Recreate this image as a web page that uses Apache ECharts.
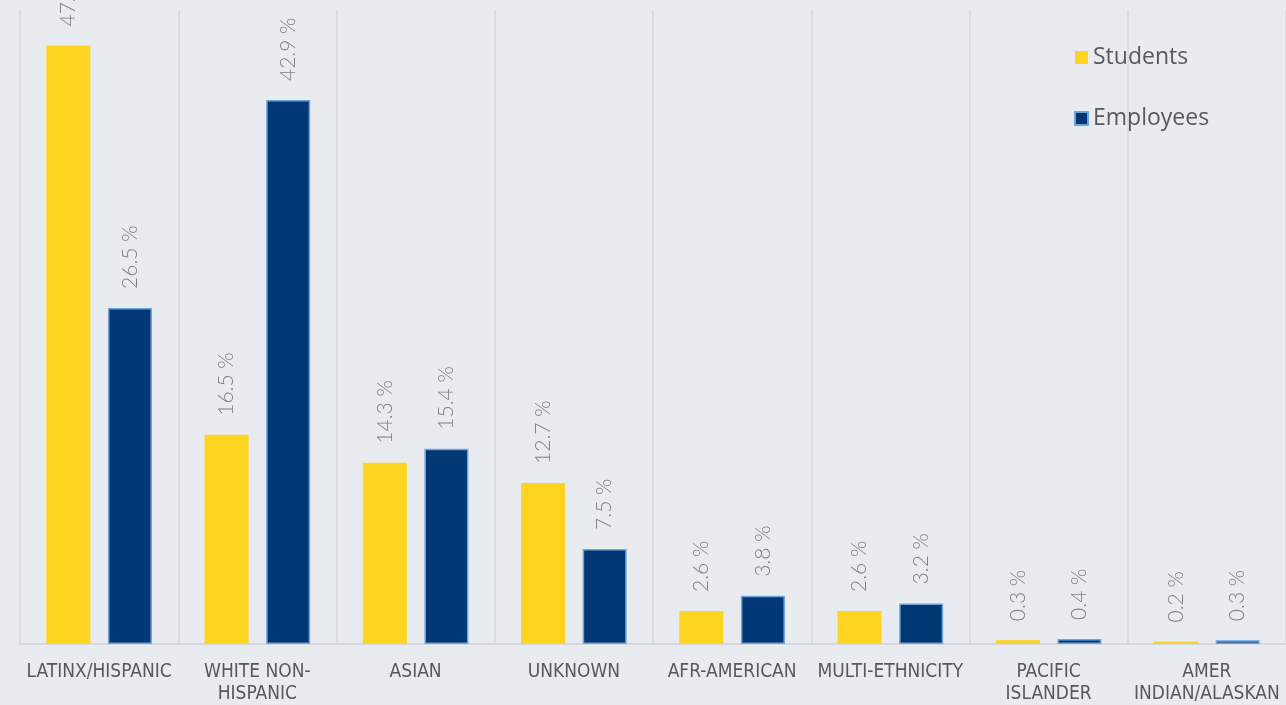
<!DOCTYPE html>
<html>
<head>
<meta charset="utf-8">
<style>
  html, body { margin: 0; padding: 0; background: #e8ebf0; }
  #chart { width: 1286px; height: 705px; }
</style>
<script src="https://cdn.jsdelivr.net/npm/echarts@6/dist/echarts.min.js"></script>
</head>
<body>
<div id="chart"></div>
<script>
// Ethnicity breakdown, percent of students vs. employees
const categories = ['LATINX/HISPANIC', 'WHITE NON-\nHISPANIC', 'ASIAN', 'UNKNOWN', 'AFR-AMERICAN',
  'MULTI-ETHNICITY', 'PACIFIC\nISLANDER', 'AMER\nINDIAN/ALASKAN'];
const students = [47.2, 16.5, 14.3, 12.7, 2.6, 2.6, 0.3, 0.2];
const employees = [26.5, 42.9, 15.4, 7.5, 3.8, 3.2, 0.4, 0.3];

const chart = echarts.init(document.getElementById('chart'), null, { renderer: 'canvas' });

const valueLabel = {
  show: true,
  position: 'top',
  rotate: 90,
  align: 'left',
  verticalAlign: 'middle',
  distance: 19,
  color: '#7f7f7f',
  fontFamily: 'Lato',
  fontWeight: 300,
  fontSize: 21,
  formatter: p => p.value.toFixed(1) + ' %'
};

chart.setOption({
  backgroundColor: '#e8ebf0',
  animation: false,
  grid: { left: 20, width: 1269, top: 10, bottom: 58, containLabel: false },
  legend: {
    orient: 'vertical',
    left: 1069,
    top: 41,
    itemWidth: 13,
    itemHeight: 13,
    itemGap: 38,
    icon: 'rect',
    textStyle: { color: '#595959', fontSize: 23, fontFamily: 'Open Sans' },
    data: ['Students', 'Employees']
  },
  xAxis: {
    type: 'category',
    data: categories,
    axisTick: { show: false },
    axisLine: { show: true, lineStyle: { color: '#d0d2d6', width: 1.5 } },
    splitLine: { show: true, lineStyle: { color: '#d6d8dc', width: 1.5 } },
    axisLabel: {
      interval: 0,
      color: '#595959',
      fontSize: 19,
      fontFamily: "'DejaVu Sans Condensed', 'Liberation Sans Narrow', sans-serif",
      lineHeight: 22,
      margin: 17
    }
  },
  yAxis: {
    type: 'value',
    min: 0,
    max: 50,
    show: false
  },
  series: [
    {
      name: 'Students',
      type: 'bar',
      data: students,
      barWidth: 44,
      barGap: '40%',
      itemStyle: { color: '#fdd41f' },
      label: valueLabel
    },
    {
      name: 'Employees',
      type: 'bar',
      data: employees,
      barWidth: 44,
      itemStyle: { color: '#003876', borderColor: '#6fa3dc', borderWidth: 1.5 },
      label: valueLabel
    }
  ]
});
</script>
</body>
</html>
